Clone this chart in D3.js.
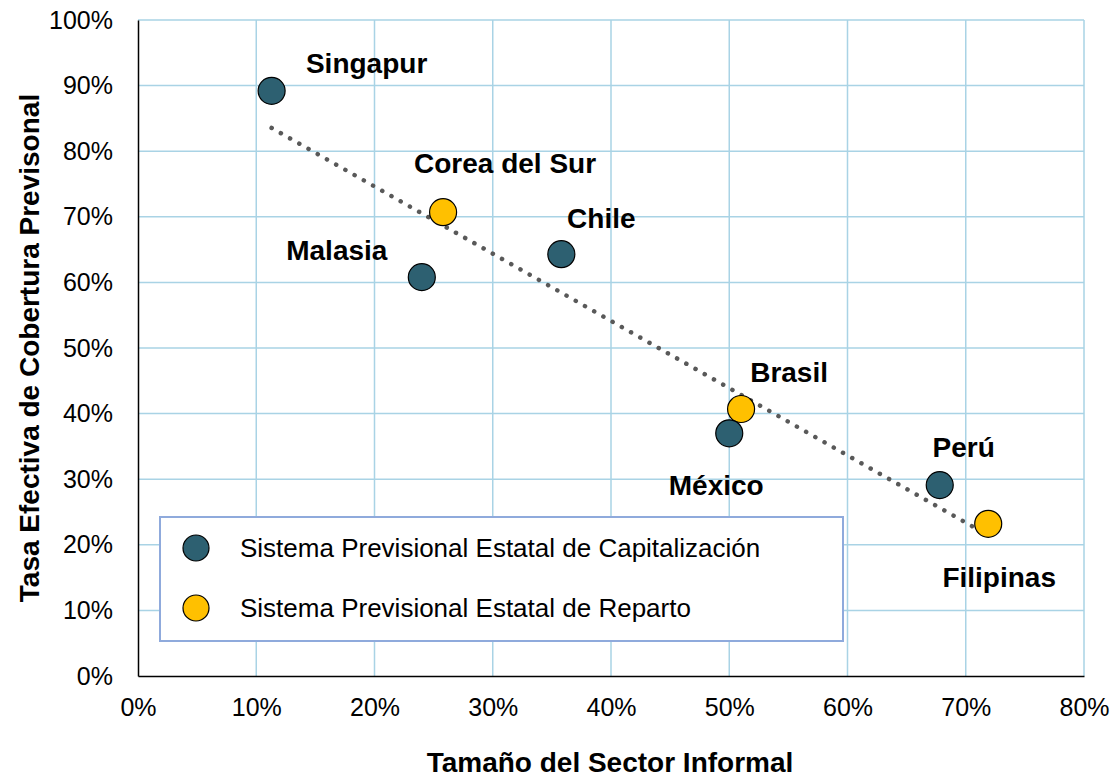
<!DOCTYPE html>
<html lang="es">
<head>
<meta charset="UTF-8">
<script src="https://d3js.org/d3.v7.min.js"></script>
<title>Informalidad y cobertura previsional</title>
<style>
body { margin: 0; background: #fff; }
text { font-family: Arial, "Liberation Sans", sans-serif; fill: #000; }
.tick-label { font-size: 25px; }
.point-label { font-size: 28px; font-weight: bold; }
.axis-title { font-size: 28px; font-weight: bold; }
.legend-text { font-size: 26px; }
</style>
</head>
<body>
<script>

// data
var countries = ["Singapur", "Corea del Sur", "Malasia", "Chile", "Brasil", "México", "Perú", "Filipinas"];
var informal  = [0.113, 0.258, 0.240, 0.358, 0.510, 0.500, 0.678, 0.719];
var coverage  = [0.892, 0.707, 0.608, 0.643, 0.407, 0.370, 0.291, 0.232];
var system    = ["cap", "rep", "cap", "cap", "rep", "cap", "cap", "rep"];

var xTicks = [0, 0.1, 0.2, 0.3, 0.4, 0.5, 0.6, 0.7, 0.8];
var yTicks = [0, 0.1, 0.2, 0.3, 0.4, 0.5, 0.6, 0.7, 0.8, 0.9, 1.0];

var legendKeys   = ["cap", "rep"];
var legendLabels = ["Sistema Previsional Estatal de Capitalización", "Sistema Previsional Estatal de Reparto"];

// label placement relative to each marker (px)
var labelOffsets = [[95, -18], [62, -39], [-85, -17], [40, -26], [48, -27], [-13, 62], [24, -28], [11, 63]];

var colors = { cap: "#2D6071", rep: "#FFC000" };

var width = 1120, height = 781;
var margin = { left: 138, right: 36, top: 20, bottom: 105 };

var svg = d3.select("body").append("svg")
    .attr("width", width)
    .attr("height", height);

var x = d3.scaleLinear().domain([0, 0.8]).range([margin.left, width - margin.right]);
var y = d3.scaleLinear().domain([0, 1]).range([height - margin.bottom, margin.top]);

var pct = d3.format(".0%");

// gridlines
svg.append("g").selectAll("line.v")
    .data(xTicks.slice(1))
  .enter().append("line")
    .attr("x1", function(d) { return x(d); })
    .attr("x2", function(d) { return x(d); })
    .attr("y1", y(0)).attr("y2", y(1))
    .attr("stroke", "#A9D3E5").attr("stroke-width", 1.5);

svg.append("g").selectAll("line.h")
    .data(yTicks.slice(1))
  .enter().append("line")
    .attr("y1", function(d) { return y(d); })
    .attr("y2", function(d) { return y(d); })
    .attr("x1", x(0)).attr("x2", x(0.8))
    .attr("stroke", "#A9D3E5").attr("stroke-width", 1.5);

// axes
var xAxis = svg.append("g")
    .attr("transform", "translate(0," + y(0) + ")")
    .call(d3.axisBottom(x).tickValues(xTicks).tickFormat(pct).tickSize(0).tickPadding(22));
var yAxis = svg.append("g")
    .attr("transform", "translate(" + x(0) + ",0)")
    .call(d3.axisLeft(y).tickValues(yTicks).tickFormat(pct).tickSize(0).tickPadding(25));

[xAxis, yAxis].forEach(function(a) {
  a.select(".domain").attr("stroke", "#000").attr("stroke-width", 1.5);
  a.selectAll("text").attr("class", "tick-label").attr("font-family", null).attr("font-size", null).attr("fill", "#000");
});

// linear trendline (least squares on the points)
var mx = d3.mean(informal), my = d3.mean(coverage);
var sxy = d3.sum(informal, function(v, i) { return (v - mx) * (coverage[i] - my); });
var sxx = d3.sum(informal, function(v) { return (v - mx) * (v - mx); });
var slope = sxy / sxx, icpt = my - slope * mx;
var x0 = d3.min(informal), x1 = d3.max(informal);

svg.append("line")
    .attr("x1", x(x0)).attr("y1", y(icpt + slope * x0))
    .attr("x2", x(x1)).attr("y2", y(icpt + slope * x1))
    .attr("stroke", "#595959")
    .attr("stroke-width", 4.5)
    .attr("stroke-linecap", "round")
    .attr("stroke-dasharray", "0.1 10.5");

// points
var idx = d3.range(countries.length);

svg.append("g").selectAll("circle")
    .data(idx)
  .enter().append("circle")
    .attr("cx", function(i) { return x(informal[i]); })
    .attr("cy", function(i) { return y(coverage[i]); })
    .attr("r", 13.5)
    .attr("fill", function(i) { return colors[system[i]]; })
    .attr("stroke", "#000")
    .attr("stroke-width", 1.2);

svg.append("g").selectAll("text")
    .data(idx)
  .enter().append("text")
    .attr("class", "point-label")
    .attr("text-anchor", "middle")
    .attr("x", function(i) { return x(informal[i]) + labelOffsets[i][0]; })
    .attr("y", function(i) { return y(coverage[i]) + labelOffsets[i][1]; })
    .text(function(i) { return countries[i]; });

// legend
var legend = svg.append("g");
legend.append("rect")
    .attr("x", 160).attr("y", 517)
    .attr("width", 683).attr("height", 124)
    .attr("fill", "#fff")
    .attr("stroke", "#8FAADC")
    .attr("stroke-width", 2);

var item = legend.selectAll("g.item")
    .data(legendKeys)
  .enter().append("g")
    .attr("transform", function(d, i) { return "translate(196," + (548 + i * 60) + ")"; });

item.append("circle")
    .attr("r", 13)
    .attr("fill", function(d) { return colors[d]; })
    .attr("stroke", "#000")
    .attr("stroke-width", 1.2);

item.append("text")
    .attr("class", "legend-text")
    .attr("x", 44)
    .attr("dy", "0.35em")
    .text(function(d, i) { return legendLabels[i]; });

// axis titles
svg.append("text")
    .attr("class", "axis-title")
    .attr("text-anchor", "middle")
    .attr("x", x(0.4) - 1)
    .attr("y", 772)
    .text("Tamaño del Sector Informal");

svg.append("text")
    .attr("class", "axis-title")
    .attr("text-anchor", "middle")
    .attr("transform", "translate(39," + y(0.5) + ") rotate(-90)")
    .text("Tasa Efectiva de Cobertura Previsonal");

</script>
</body>
</html>
